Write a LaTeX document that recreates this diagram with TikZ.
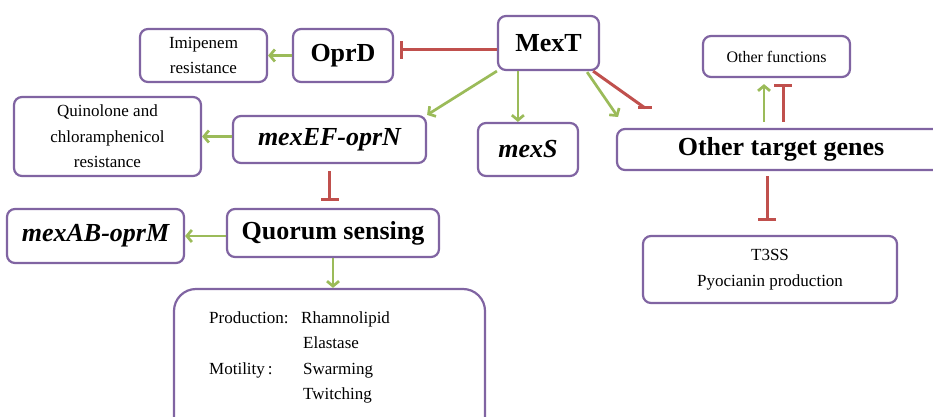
\documentclass[tikz,border=0pt]{standalone}
\usepackage{fontspec}
\setmainfont{Liberation Serif}
\usetikzlibrary{arrows.meta,calc}
\definecolor{purp}{HTML}{8064A2}
\definecolor{grn}{HTML}{9BBB59}
\definecolor{rd}{HTML}{C0504D}
\begin{document}
\begin{tikzpicture}[x=1pt,y=-1pt,
 box/.style={draw=purp,line width=2.2pt,rounded corners=8pt,fill=white,inner sep=0pt,align=center},
 bigtxt/.style={font=\fontsize{26}{30}\selectfont\bfseries},
 bigit/.style={font=\fontsize{26}{30}\selectfont\bfseries\itshape},
 smalltxt/.style={font=\fontsize{17}{25.5}\selectfont},
 plain/.style={font=\fontsize{17}{25.5}\selectfont,inner sep=0pt,anchor=base west},
 act/.style={draw=grn,line width=2.7pt,-{Straight Barb[length=5pt,width=12pt]}},
 inh/.style={draw=rd,line width=3pt,-{Bar[width=18pt]}},
 inhline/.style={draw=rd,line width=3pt}
]
\clip (0,0) rectangle (933,417);
\fill[white] (0,0) rectangle (933,417);

% nodes
\node[box,smalltxt,minimum width=127pt,minimum height=53pt] (imi) at (203.5,55.5) {Imipenem\\resistance};
\node[box,bigtxt,minimum width=100pt,minimum height=53pt] (oprd) at (343,55.5) {OprD};
\node[box,bigtxt,minimum width=101pt,minimum height=54pt] (mext) at (548.5,43) {MexT};
\node[box,smalltxt,font=\fontsize{16}{20}\selectfont,minimum width=147pt,minimum height=41pt] (ofun) at (776.5,56.5) {Other functions};
\node[box,bigit,minimum width=100pt,minimum height=53pt] (mexs) at (528,149.5) {mexS};
\node[box,bigtxt,minimum width=328pt,minimum height=41pt] (otg) at (781,149.5) {Other target genes};
\node[box,smalltxt,minimum width=187pt,minimum height=79pt] (quin) at (107.5,136.5) {Quinolone and\\chloramphenicol\\resistance};
\node[box,bigit,minimum width=193pt,minimum height=47pt] (mexef) at (329.5,139.5) {mexEF-oprN};
\node[box,bigtxt,minimum width=212pt,minimum height=48pt] (qs) at (333,233) {Quorum sensing};
\node[box,bigit,minimum width=177pt,minimum height=54pt] (mexab) at (95.5,236) {mexAB-oprM};
\node[box,rounded corners=22pt,minimum width=311pt,minimum height=151pt] (big) at (329.5,364.5) {};
\node[box,smalltxt,minimum width=254pt,minimum height=67pt] (t3ss) at (770,269.5) {T3SS\\Pyocianin production};

% text inside the big box
\node[plain] (prod) at (209,323) {Production:};
\node[plain] (rham) at (301,323) {Rhamnolipid};
\node[plain] (elas) at (303,348) {Elastase};
\node[plain] (moti) at (209,374) {Motility\,:};
\node[plain] (swar) at (303,374) {Swarming};
\node[plain] (twit) at (303,399) {Twitching};

% connectors
\coordinate (mo) at ($(mext.west)+(0,7)$);
\draw[inh,shorten >=6pt] (mo) -- (oprd.east |- mo);
\draw[act] (oprd.west) -- (imi.east);
\draw[act] (mext.south west) -- (mexef.north east);
\coordinate (ms) at ($(mext.south west)+(21,0)$);
\draw[act] (ms) -- (ms |- mexs.north);
\coordinate (mg) at ($(mext.south east)+(-13,1)$);
\coordinate (mgend) at (618,117);
\draw[act] (mg) -- (mgend);
\coordinate (mr) at ($(mext.south east)+(-7,0)$);
\coordinate (mrend) at (645,108);
\coordinate (mrbl) at (638,108);
\coordinate (mrbr) at (652,108);
\draw[inhline] (mr) -- (mrend);
\draw[inhline] (mrbl) -- (mrbr);
\coordinate (og) at ($(otg.north)+(-17,-6)$);
\draw[act,shorten >=6pt] (og) -- (og |- ofun.south);
\coordinate (or) at ($(otg.north)+(2,-6)$);
\draw[inh,shorten >=6pt] (or) -- (or |- ofun.south);
\draw[inh,shorten <=7pt,shorten >=7pt] (mexef.south) -- (mexef.south |- qs.north);
\draw[act] (qs.west |- mexab.east) -- (mexab.east);
\draw[act] (qs.south) -- (qs.south |- big.north);
\draw[act] (mexef.west |- quin.east) -- (quin.east);
\coordinate (ot) at ($(otg.south)+(-14,5)$);
\draw[inh,shorten >=14pt] (ot) -- (ot |- t3ss.north);
\end{tikzpicture}
\end{document}
